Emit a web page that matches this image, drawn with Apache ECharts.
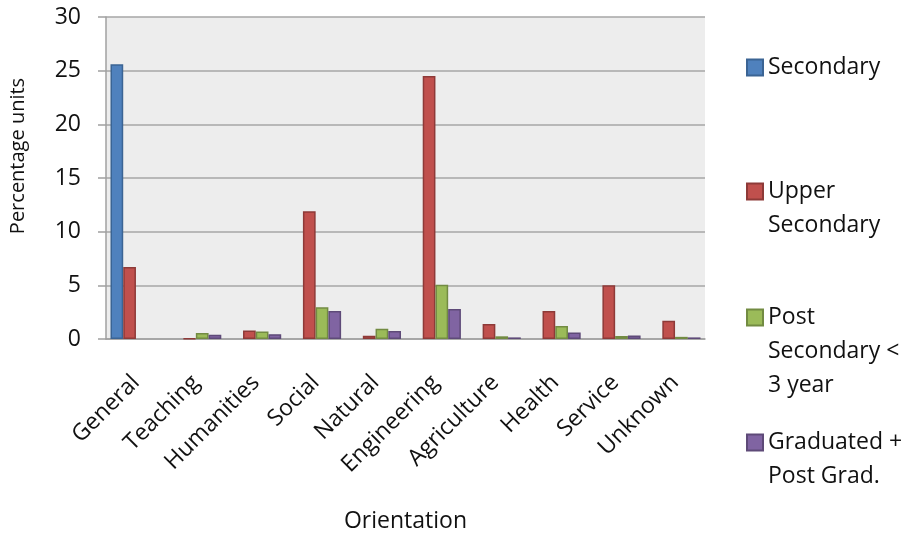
<!DOCTYPE html>
<html>
<head>
<meta charset="utf-8">
<script src="https://cdn.jsdelivr.net/npm/echarts@6/dist/echarts.min.js"></script>
<style>
  html, body { margin: 0; padding: 0; background: #fff; }
  #chart { width: 909px; height: 535px; }
</style>
</head>
<body>
<div id="chart"></div>
<script>
// Share of units by orientation and education level
const categories = ['General', 'Teaching', 'Humanities', 'Social', 'Natural',
  'Engineering', 'Agriculture', 'Health', 'Service', 'Unknown'];
const secondary      = [25.6, 0, 0, 0, 0, 0, 0, 0, 0, 0];
const upperSecondary = [6.7, 0.05, 0.8, 11.9, 0.3, 24.5, 1.4, 2.6, 5.0, 1.7];
const postSecondary  = [0, 0.55, 0.7, 2.95, 0.95, 5.05, 0.25, 1.2, 0.28, 0.2];
const graduated      = [0, 0.4, 0.45, 2.6, 0.75, 2.8, 0.15, 0.6, 0.33, 0.15];
const yTicks = [0, 5, 10, 15, 20, 25, 30];

const seriesNames = ['Secondary', 'Upper Secondary', 'Post Secondary < 3 year', 'Graduated + Post Grad.'];
const legendLabels = ['Secondary', 'Upper\nSecondary', 'Post\nSecondary <\n3 year', 'Graduated +\nPost Grad.'];
const fills   = ['#4F81BD', '#C0504D', '#9BBB59', '#8064A2'];
const borders = ['#3B6494', '#8E3A38', '#728B42', '#5E4A78'];
const values  = [secondary, upperSecondary, postSecondary, graduated];

const FONT = 'Open Sans';
const LINE_H = 34;
const legendCenters = [67.5, 191.5, 317.5, 442.5];

// Legend text is centred on its swatch, so leading blank lines push the
// first real line level with the swatch.
const legends = seriesNames.map((name, i) => {
  const lines = legendLabels[i].split('\n');
  const n = lines.length;
  const label = '\n'.repeat(n - 1) + legendLabels[i];
  return {
    data: [name],
    orient: 'vertical',
    left: 746,
    top: legendCenters[i] - (2 * n - 1) * LINE_H / 2,
    padding: 0,
    itemWidth: 16,
    itemHeight: 16,
    itemGap: 0,
    icon: 'rect',
    selectedMode: false,
    formatter: () => label,
    textStyle: {
      fontFamily: FONT,
      fontSize: 23,
      color: '#111',
      lineHeight: LINE_H
    }
  };
});

const chart = echarts.init(document.getElementById('chart'), null, { renderer: 'canvas' });
chart.setOption({
  animation: false,
  backgroundColor: '#ffffff',
  textStyle: { fontFamily: FONT },
  legend: legends,
  grid: {
    left: 106, right: 204, top: 17, bottom: 196,
    containLabel: false,
    outerBoundsMode: 'none',
    show: true, backgroundColor: '#EDEDED', borderWidth: 0
  },
  xAxis: {
    type: 'category',
    data: categories,
    name: 'Orientation',
    nameLocation: 'middle',
    nameGap: 171,
    nameTextStyle: { fontFamily: FONT, fontSize: 23, color: '#111' },
    axisLine: { lineStyle: { color: '#A0A0A0', width: 1.5 } },
    axisTick: { show: false },
    axisLabel: {
      interval: 0, rotate: 45, margin: 40,
      padding: [12, 0, 0, 0],
      fontFamily: FONT, fontSize: 23, color: '#111'
    }
  },
  yAxis: {
    type: 'value',
    min: yTicks[0], max: yTicks[yTicks.length - 1], interval: 5,
    name: 'Percentage units',
    nameLocation: 'middle',
    nameGap: 78,
    nameTextStyle: { fontFamily: FONT, fontSize: 20, color: '#111', padding: [0, 0, 0, 44] },
    axisLine: { show: true, lineStyle: { color: '#A0A0A0', width: 1.5 } },
    axisTick: { show: true, length: 8, lineStyle: { color: '#A0A0A0', width: 1.5 } },
    splitLine: { lineStyle: { color: '#A6A6A6', width: 1.5 } },
    axisLabel: { margin: 25, fontFamily: FONT, fontSize: 23, color: '#111' }
  },
  series: seriesNames.map((name, i) => ({
    name,
    type: 'bar',
    // an empty level draws no bar at all
    data: values[i].map(v => (v === 0 ? null : v)),
    barGap: '0%',
    barCategoryGap: '15%',
    itemStyle: { color: fills[i], borderColor: borders[i], borderWidth: 1.5 }
  }))
});
</script>
</body>
</html>
